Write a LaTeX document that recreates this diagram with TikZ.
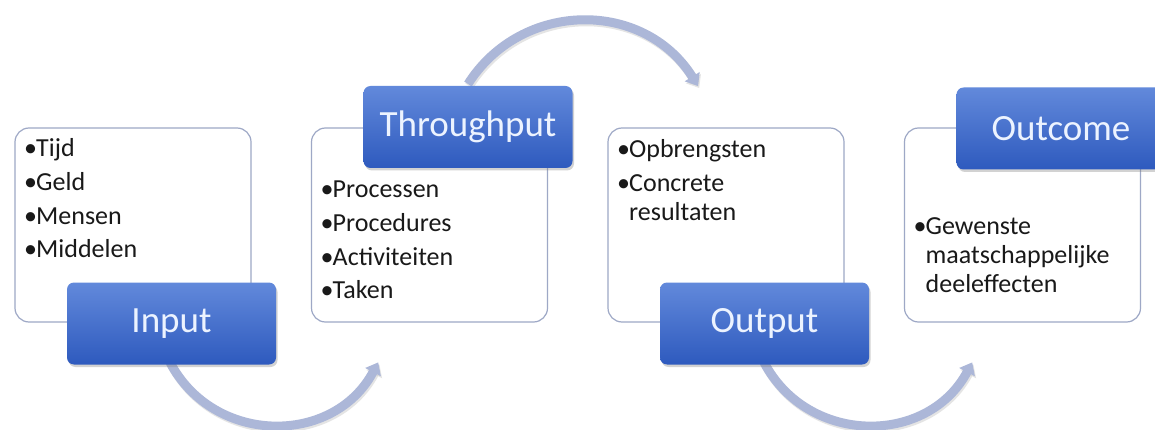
\documentclass[tikz,border=0pt]{standalone}
\usepackage{fontspec}
\setmainfont{Carlito}
\usetikzlibrary{arrows.meta,shadows}
\definecolor{lblTop}{RGB}{98,137,219}
\definecolor{lblBot}{RGB}{46,90,190}
\definecolor{lblText}{RGB}{236,243,255}
\definecolor{boxLine}{RGB}{158,168,198}
\definecolor{flowCol}{RGB}{172,183,216}
\definecolor{txtCol}{RGB}{25,25,25}
\newcommand\bitem[1]{\hangindent=12pt\hangafter=1\noindent\makebox[12pt][l]{•}#1\par}
\newcommand\blist[1]{\parbox[t]{215pt}{\setlength\parskip{5pt}\raggedright #1}}
\begin{document}
\begin{tikzpicture}[x=1pt,y=-1pt,
  tbox/.style={draw=boxLine, line width=1.2pt, fill=white, rounded corners=14pt,
    minimum width=236pt, minimum height=194pt, inner sep=0pt},
  lbl/.style={rounded corners=7pt, top color=lblTop, bottom color=lblBot,
    text=lblText, minimum width=209pt, minimum height=82pt, inner sep=0pt,
    font=\fontsize{37}{40}\selectfont,
    drop shadow={opacity=0.35, shadow xshift=1.5pt, shadow yshift=-2.5pt}},
  blistnode/.style={anchor=base west, inner sep=0pt, text=txtCol,
    font=\fontsize{26}{28.6}\selectfont},
  flow/.style={draw=flowCol, line width=9pt, -{Triangle[width=17pt,length=11pt]}},
  flowshadow/.style={draw=black!30, opacity=0.35, line width=9pt,
    -{Triangle[width=17pt,length=11pt]}, transform canvas={shift={(1.2pt,-2pt)}}}]
\useasboundingbox (0,0) rectangle (1155,430);
\clip (0,0) rectangle (1155,430);
\fill[white] (0,0) rectangle (1155,430);

% text boxes
\node[tbox] (b1) at (133,225) {};
\node[tbox] (b2) at (429.5,225) {};
\node[tbox] (b3) at (726,225) {};
\node[tbox] (b4) at (1022.5,225) {};

% texts
\node[blistnode] (t1) at (24,157) {\blist{\bitem{Tijd}\bitem{Geld}\bitem{Mensen}\bitem{Middelen}}};
\node[blistnode] (t2) at (320.5,198) {\blist{\bitem{Processen}\bitem{Procedures}\bitem{Activiteiten}\bitem{Taken}}};
\node[blistnode] (t3) at (617,158) {\blist{\bitem{Opbrengsten}\bitem{Concrete\newline resultaten}}};
\node[blistnode] (t4) at (913.5,235) {\blist{\bitem{Gewenste\newline maatschappelijke\newline deeleffecten}}};

% arc end points
\coordinate (a1s) at (170,362.4);
\coordinate (a1e) at (378.2,362.4);
\coordinate (a2s) at (764,362.4);
\coordinate (a2e) at (972.2,362.4);
\coordinate (a3s) at (468,84);
\coordinate (a3e) at (698,86);

% arcs (shadows)
\draw[flowshadow] (a1s) .. controls (214.1,445.8) and (333.9,445.8) .. (a1e);
\draw[flowshadow] (a2s) .. controls (808.1,445.8) and (927.9,445.8) .. (a2e);
\draw[flowshadow] (a3s) .. controls (521.7,-0.5) and (644.3,-0.5) .. (a3e);
% arcs
\draw[flow] (a1s) .. controls (214.1,445.8) and (333.9,445.8) .. (a1e);
\draw[flow] (a2s) .. controls (808.1,445.8) and (927.9,445.8) .. (a2e);
\draw[flow] (a3s) .. controls (521.7,-0.5) and (644.3,-0.5) .. (a3e);

% labels
\node[lbl] (l1) at (171.5,323.5) {Input};
\node[lbl] (l2) at (468,127) {Throughput};
\node[lbl] (l3) at (764.5,323.5) {Output};
\node[lbl] (l4) at (1061,128.5) {Outcome};
\end{tikzpicture}
\end{document}
